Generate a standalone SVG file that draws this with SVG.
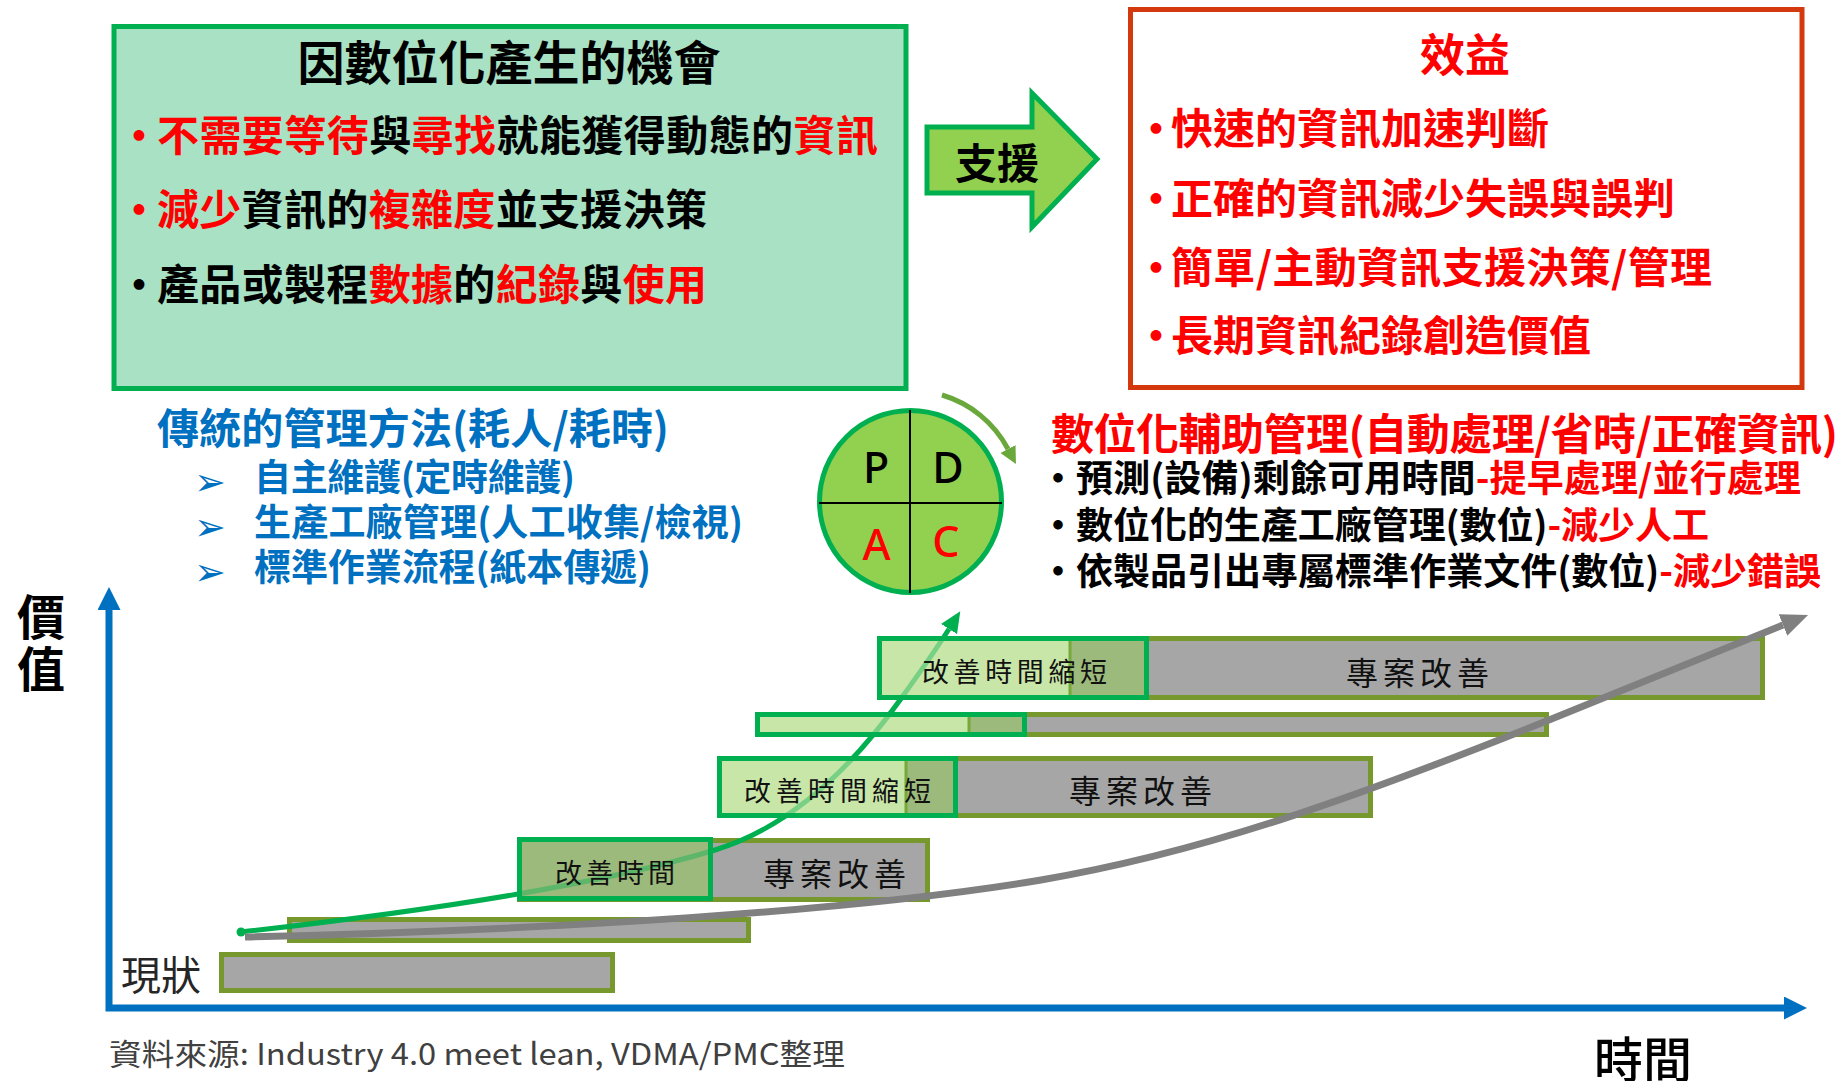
<svg xmlns="http://www.w3.org/2000/svg" width="1847" height="1081" viewBox="0 0 1847 1081">
<style>
.cjk{font-family:"Noto Sans CJK TC","Noto Sans CJK SC",sans-serif}
.b{font-weight:bold}
.r{fill:#FF0000}
.k{fill:#000000}
.bl{fill:#0070C0}
.arr{fill:#0070C0;font-family:"DejaVu Sans",sans-serif;font-size:38px}
.bar{fill:#A6A6A6;stroke:#76982C;stroke-width:5}
.gfill{fill:#C8E6A8}
.dfill{fill:#9CBA7C}
.gstroke{fill:none;stroke:#00B050;stroke-width:5}
.barT{font-family:"Noto Sans CJK TC","Noto Sans CJK SC",sans-serif;fill:#111}
</style>
<defs>
<marker id="blueHead" markerUnits="userSpaceOnUse" markerWidth="24" markerHeight="24" refX="0" refY="11.5" orient="auto-start-reverse" viewBox="0 0 24 24">
<path d="M0,0 L23,11.5 L0,23 z" fill="#0070C0"/>
</marker>
<marker id="grayHead" markerUnits="userSpaceOnUse" markerWidth="28" markerHeight="24" refX="0" refY="11.5" orient="auto" viewBox="0 0 28 24">
<path d="M0,0 L27,11.5 L0,23 z" fill="#808080"/>
</marker>
<marker id="greenHead" markerUnits="userSpaceOnUse" markerWidth="22" markerHeight="20" refX="0" refY="9.5" orient="auto" viewBox="0 0 22 20">
<path d="M0,0 L21,9.5 L0,19 z" fill="#00B050"/>
</marker>
<marker id="oliveHead" markerUnits="userSpaceOnUse" markerWidth="18" markerHeight="18" refX="0" refY="8.5" orient="auto" viewBox="0 0 18 18">
<path d="M0,0 L17,8.5 L0,17 z" fill="#6AA83C"/>
</marker>
</defs>
<rect width="1847" height="1081" fill="#FFFFFF"/>

<g id="opportunity">
<rect x="114" y="26.5" width="792" height="362" fill="#A8E1C4" stroke="#00B050" stroke-width="5"/>
<text class="cjk b k" x="509" y="80" font-size="47" text-anchor="middle">因數位化產生的機會</text>
<text class="cjk b r" x="139" y="151" font-size="42" text-anchor="middle">•</text>
<text class="cjk b k" x="157" y="151" font-size="42" textLength="721"><tspan class="r">不需要等待</tspan>與<tspan class="r">尋找</tspan>就能獲得動態的<tspan class="r">資訊</tspan></text>
<text class="cjk b r" x="139" y="225" font-size="42" text-anchor="middle">•</text>
<text class="cjk b k" x="157" y="225" font-size="42" textLength="550"><tspan class="r">減少</tspan>資訊的<tspan class="r">複雜度</tspan>並支援決策</text>
<text class="cjk b k" x="139" y="300" font-size="42" text-anchor="middle">•</text>
<text class="cjk b k" x="157" y="300" font-size="42" textLength="550">產品或製程<tspan class="r">數據</tspan>的<tspan class="r">紀錄</tspan>與<tspan class="r">使用</tspan></text>
</g>

<g id="support-arrow">
<polygon points="927,127 1032,127 1032,93 1097,159 1032,227 1032,193 927,193" fill="#92D050" stroke="#00B050" stroke-width="5" stroke-linejoin="miter"/>
<text class="cjk b k" x="997" y="179" font-size="42" text-anchor="middle">支援</text>
</g>

<g id="benefit">
<rect x="1130.5" y="9.5" width="671.5" height="378" fill="#FFFFFF" stroke="#D4380D" stroke-width="5"/>
<text class="cjk b r" x="1465" y="72" font-size="45" text-anchor="middle">效益</text>
<text class="cjk b r" x="1156" y="144" font-size="42" text-anchor="middle">•</text>
<text class="cjk b r" x="1171" y="144" font-size="42">快速的資訊加速判斷</text>
<text class="cjk b r" x="1156" y="214" font-size="42" text-anchor="middle">•</text>
<text class="cjk b r" x="1171" y="214" font-size="42">正確的資訊減少失誤與誤判</text>
<text class="cjk b r" x="1156" y="283" font-size="42" text-anchor="middle">•</text>
<text class="cjk b r" x="1171" y="283" font-size="42" textLength="541">簡單/主動資訊支援決策/管理</text>
<text class="cjk b r" x="1156" y="351" font-size="42" text-anchor="middle">•</text>
<text class="cjk b r" x="1171" y="351" font-size="42">長期資訊紀錄創造價值</text>
</g>

<g id="traditional">
<text class="cjk b bl" x="157" y="444" font-size="42" textLength="512">傳統的管理方法(耗人/耗時)</text>
<text class="arr" x="194" y="495">➢</text>
<text class="cjk b bl" x="254" y="491" font-size="37" textLength="321">自主維護(定時維護)</text>
<text class="arr" x="194" y="540">➢</text>
<text class="cjk b bl" x="254" y="536" font-size="37" textLength="489">生產工廠管理(人工收集/檢視)</text>
<text class="arr" x="194" y="585">➢</text>
<text class="cjk b bl" x="254" y="581" font-size="37" textLength="397">標準作業流程(紙本傳遞)</text>
</g>

<g id="pdca">
<circle cx="910.5" cy="501.5" r="91" fill="#92D050" stroke="#00B050" stroke-width="5"/>
<line x1="910" y1="410" x2="910" y2="593" stroke="#000" stroke-width="2"/>
<line x1="819" y1="503" x2="1002" y2="503" stroke="#000" stroke-width="2"/>
<text x="876" y="483" font-size="43" font-family="Noto Sans, sans-serif" font-weight="500" text-anchor="middle" fill="#000">P</text>
<text x="948" y="483" font-size="43" font-family="Noto Sans, sans-serif" font-weight="500" text-anchor="middle" fill="#000">D</text>
<text x="876.5" y="560" font-size="43" font-family="Noto Sans, sans-serif" font-weight="500" text-anchor="middle" fill="#FF0000">A</text>
<text x="946" y="557" font-size="43" font-family="Noto Sans, sans-serif" font-weight="500" text-anchor="middle" fill="#FF0000">C</text>
</g>

<g id="digital">
<text class="cjk b r" x="1051" y="450" font-size="43" textLength="787">數位化輔助管理(自動處理/省時/正確資訊)</text>
<text class="cjk b k" x="1058" y="492" font-size="37" text-anchor="middle">•</text>
<text class="cjk b k" x="1076" y="492" font-size="37" textLength="725">預測(設備)剩餘可用時間<tspan class="r">-提早處理/並行處理</tspan></text>
<text class="cjk b k" x="1058" y="539" font-size="37" text-anchor="middle">•</text>
<text class="cjk b k" x="1076" y="539" font-size="37" textLength="633">數位化的生產工廠管理(數位)<tspan class="r">-減少人工</tspan></text>
<text class="cjk b k" x="1058" y="585" font-size="37" text-anchor="middle">•</text>
<text class="cjk b k" x="1076" y="585" font-size="37" textLength="745">依製品引出專屬標準作業文件(數位)<tspan class="r">-減少錯誤</tspan></text>
</g>

<g id="axis-labels">
<text class="cjk b k" x="41" y="635" font-size="48" text-anchor="middle">價</text>
<text class="cjk b k" x="41" y="687" font-size="48" text-anchor="middle">值</text>
<text class="cjk" x="1643" y="1078" font-size="49" text-anchor="middle" fill="#000" font-weight="500">時間</text>
<text class="cjk" x="121" y="990" font-size="40" fill="#262626">現狀</text>
<text class="cjk" x="109" y="1065" font-size="30" fill="#404040" textLength="736" lengthAdjust="spacingAndGlyphs">資料來源: Industry 4.0 meet lean, VDMA/PMC整理</text>
</g>

<g id="bars-base">
<rect class="bar" x="221.5" y="954.5" width="391" height="36"/>
<rect class="bar" x="289.5" y="919.5" width="459" height="21"/>
<rect class="bar" x="519.5" y="840.5" width="408" height="59"/>
<rect class="bar" x="719.5" y="758.5" width="651" height="57"/>
<rect class="bar" x="757.5" y="714.5" width="789" height="20"/>
<rect class="bar" x="879.5" y="638.5" width="883" height="59"/>
<rect class="dfill" x="519.5" y="839.5" width="191" height="59"/>
<rect class="gfill" x="719.5" y="758.5" width="236" height="57"/>
<rect class="dfill" x="906" y="758.5" width="49.5" height="57"/>
<rect class="gfill" x="757.5" y="714.5" width="267" height="20"/>
<rect class="dfill" x="969" y="714.5" width="55.5" height="20"/>
<rect class="gfill" x="879.5" y="638.5" width="267" height="59"/>
<rect class="dfill" x="1070" y="638.5" width="76.5" height="59"/>
</g>

<g id="connectors">
<path id="axes" d="M109,610 V1008 H1784" fill="none" stroke="#0070C0" stroke-width="7" stroke-linejoin="miter" marker-start="url(#blueHead)" marker-end="url(#blueHead)"/>
<path id="green-curve" d="M241,932 C420,912 600,885 715,850 C790,827 850,770 900,700 C918,675 935,651 949,629" fill="none" stroke="#00B050" stroke-width="5" marker-end="url(#greenHead)"/>
<circle cx="241" cy="932" r="4.5" fill="#00B050"/>
<path id="pdca-cycle" d="M942,395 A110,110 0 0 1 1008,449" fill="none" stroke="#6AA83C" stroke-width="5" marker-end="url(#oliveHead)"/>
</g>

<g id="bars-overlay">
<rect class="dfill" x="519.5" y="839.5" width="191" height="59" fill-opacity="0.6"/>
<rect class="gfill" x="719.5" y="758.5" width="186.5" height="57" fill-opacity="0.6"/>
<rect class="dfill" x="906" y="758.5" width="49.5" height="57" fill-opacity="0.6"/>
<rect class="gfill" x="757.5" y="714.5" width="211.5" height="20" fill-opacity="0.6"/>
<rect class="dfill" x="969" y="714.5" width="55.5" height="20" fill-opacity="0.6"/>
<rect class="gfill" x="879.5" y="638.5" width="190.5" height="59" fill-opacity="0.6"/>
<rect class="dfill" x="1070" y="638.5" width="76.5" height="59" fill-opacity="0.6"/>
<line x1="906" y1="758" x2="906" y2="816" stroke="#76A83A" stroke-width="3"/>
<line x1="969" y1="714" x2="969" y2="735" stroke="#76A83A" stroke-width="3"/>
<line x1="1070" y1="638" x2="1070" y2="698" stroke="#76A83A" stroke-width="3"/>
<rect class="gstroke" x="519.5" y="839.5" width="191" height="59"/>
<rect class="gstroke" x="719.5" y="758.5" width="236" height="57"/>
<rect class="gstroke" x="757.5" y="714.5" width="267" height="20"/>
<rect class="gstroke" x="879.5" y="638.5" width="267" height="59"/>
</g>

<g id="bar-labels">
<text class="barT" x="555" y="883" font-size="27" letter-spacing="4">改善時間</text>
<text class="barT" x="763" y="886" font-size="32" letter-spacing="5">專案改善</text>
<text class="barT" x="744" y="801" font-size="27" letter-spacing="5">改善時間縮短</text>
<text class="barT" x="1069" y="803" font-size="32" letter-spacing="5">專案改善</text>
<text class="barT" x="922" y="682" font-size="27" letter-spacing="4.6">改善時間縮短</text>
<text class="barT" x="1346" y="685" font-size="32" letter-spacing="5">專案改善</text>
</g>

<g id="gray-connector">
<path d="M245,937 C550,930 850,912 1041,880 C1200,853 1350,800 1549,720 C1639,684 1720,650 1783,625" fill="none" stroke="#808080" stroke-width="7" marker-end="url(#grayHead)"/>
</g>
</svg>
